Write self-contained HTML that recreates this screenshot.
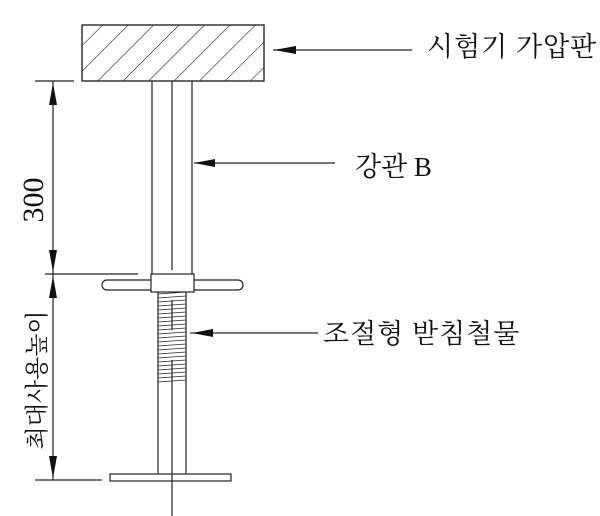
<!DOCTYPE html>
<html><head><meta charset="utf-8"><style>
html,body{margin:0;padding:0;background:#fff;}
svg{display:block;}
text{font-family:"Liberation Serif","Noto Serif CJK SC","Noto Sans CJK KR",serif;fill:#111;}
</style></head><body>
<svg width="600" height="516" viewBox="0 0 600 516" xmlns="http://www.w3.org/2000/svg">
<defs>
<pattern id="h" patternUnits="userSpaceOnUse" width="18" height="18" patternTransform="rotate(45)">
<line x1="0" y1="0" x2="0" y2="18" stroke="#222" stroke-width="1.2"/>
</pattern>
</defs>
<g stroke="#222" stroke-width="1.2" fill="none">
<rect x="82" y="25" width="182" height="56" fill="url(#h)"/>
<rect x="82" y="25" width="182" height="56"/>
<line x1="152" y1="81" x2="152" y2="274"/>
<line x1="192" y1="81" x2="192" y2="274"/>
<line x1="172" y1="81" x2="172" y2="270"/>
<rect x="102" y="280" width="141" height="10" rx="5" fill="#fff"/>
<rect x="151" y="274" width="43" height="18" fill="#fff"/>
<line x1="158" y1="292" x2="158" y2="474"/>
<line x1="186" y1="292" x2="186" y2="474"/>
<g stroke-width="0.8">
<line x1="158" y1="294" x2="186" y2="292"/><line x1="158" y1="298" x2="186" y2="296"/>
<line x1="158" y1="302" x2="186" y2="300"/><line x1="158" y1="306" x2="186" y2="304"/>
<line x1="158" y1="310" x2="186" y2="308"/><line x1="158" y1="314" x2="186" y2="312"/>
<line x1="158" y1="318" x2="186" y2="316"/><line x1="158" y1="322" x2="186" y2="320"/>
<line x1="158" y1="326" x2="186" y2="324"/><line x1="158" y1="330" x2="186" y2="328"/>
<line x1="158" y1="334" x2="186" y2="332"/><line x1="158" y1="338" x2="186" y2="336"/>
<line x1="158" y1="342" x2="186" y2="340"/><line x1="158" y1="346" x2="186" y2="344"/>
<line x1="158" y1="350" x2="186" y2="348"/><line x1="158" y1="354" x2="186" y2="352"/>
<line x1="158" y1="358" x2="186" y2="356"/><line x1="158" y1="362" x2="186" y2="360"/>
<line x1="158" y1="366" x2="186" y2="364"/><line x1="158" y1="370" x2="186" y2="368"/>
<line x1="158" y1="374" x2="186" y2="372"/><line x1="158" y1="378" x2="186" y2="376"/>
<line x1="158" y1="382" x2="186" y2="380"/>
</g>
<line x1="172" y1="300" x2="172" y2="330"/>
<line x1="172" y1="360" x2="172" y2="516"/>
<rect x="110" y="474" width="121" height="7" fill="#fff"/>
<line x1="172" y1="474" x2="172" y2="481"/>
<line x1="35" y1="81" x2="74" y2="81"/>
<line x1="45" y1="274" x2="138" y2="274"/>
<line x1="35" y1="480" x2="102" y2="480"/>
<line x1="53" y1="81" x2="53" y2="480"/>
<line x1="273" y1="50" x2="412" y2="50"/>
<line x1="194" y1="163" x2="335" y2="163"/>
<line x1="190" y1="333" x2="318" y2="333"/>
</g>
<g fill="#111">
<polygon points="53,83 49,105 57,105"/>
<polygon points="53,272 49,250 57,250"/>
<polygon points="53,276 49,298 57,298"/>
<polygon points="53,478 49,456 57,456"/>
<polygon points="274,50 296,46 296,54"/>
<polygon points="194,163 215,159 215,167"/>
<polygon points="192,333 213,329 213,337"/>
</g>
<text x="427" y="56" font-size="27" letter-spacing="1">시험기 가압판</text>
<text x="355" y="176" font-size="27">강관 B</text>
<text x="323" y="343" font-size="27" letter-spacing="1">조절형 받침철물</text>
<text transform="translate(43,200) rotate(-90)" font-size="30" text-anchor="middle">300</text>
<text transform="translate(45,380) rotate(-90)" font-size="24" text-anchor="middle">최대사용높이</text>
</svg>
</body></html>
